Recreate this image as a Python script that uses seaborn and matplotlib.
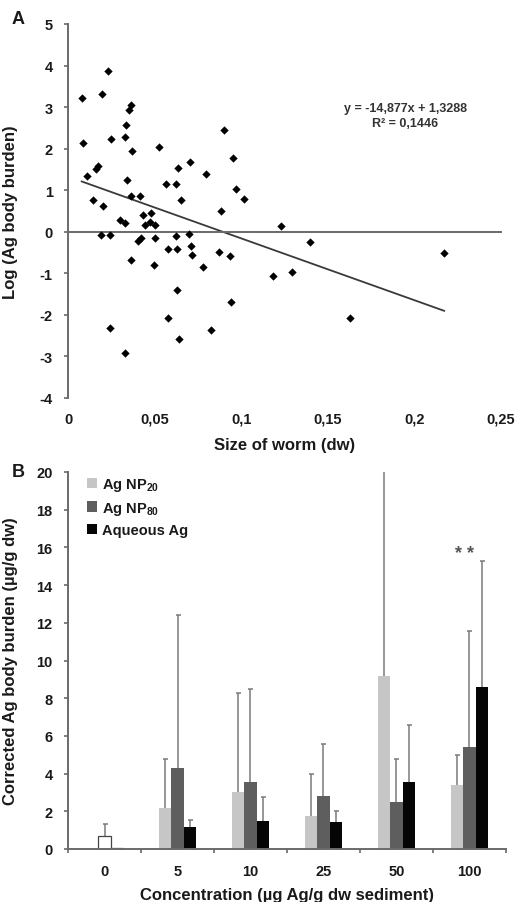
import numpy as np
import pandas as pd
import matplotlib
matplotlib.use("Agg")
import matplotlib.pyplot as plt
from matplotlib.patches import Patch
import seaborn as sns

# ---- Panel A: worm size (dw) vs log Ag body burden ----
worm_size = [
    0.0232, 0.0078, 0.0199, 0.0363, 0.0351, 0.0336, 0.0330, 0.0251, 0.0086, 0.0372,
    0.0527, 0.0172, 0.0163, 0.0111, 0.0636, 0.0707, 0.0338, 0.0567, 0.0625, 0.0365,
    0.0415, 0.0143, 0.0655, 0.0203, 0.0299, 0.0330, 0.0432, 0.0478, 0.0447, 0.0475,
    0.0505, 0.0190, 0.0240, 0.0403, 0.0419, 0.0505, 0.0626, 0.0700, 0.0576, 0.0630,
    0.0363, 0.0494, 0.0628, 0.0576, 0.0245, 0.0638, 0.0328, 0.0710, 0.0718, 0.0780,
    0.0823, 0.0874, 0.0934, 0.0942, 0.0886, 0.0794, 0.0900, 0.0954, 0.0969, 0.1015,
    0.1229, 0.1400, 0.1185, 0.1296, 0.1628, 0.2173,
]
log_burden = [
    3.88, 3.21, 3.32, 3.06, 2.92, 2.56, 2.28, 2.23, 2.14, 1.95,
    2.03, 1.58, 1.51, 1.34, 1.53, 1.68, 1.24, 1.14, 1.14, 0.86,
    0.86, 0.76, 0.77, 0.62, 0.28, 0.20, 0.40, 0.44, 0.16, 0.23,
    0.16, -0.08, -0.08, -0.22, -0.14, -0.14, -0.10, -0.05, -0.41, -0.41,
    -0.67, -0.79, -1.40, -2.08, -2.32, -2.59, -2.92, -0.35, -0.56, -0.84,
    -2.36, -0.49, -0.59, -1.68, 0.51, 1.40, 2.46, 1.78, 1.03, 0.79,
    0.14, -0.25, -1.07, -0.97, -2.08, -0.51,
]
fit_slope = -14.877
fit_intercept = 1.3288
fit_r2 = 0.1446
size_ticks = [0, 0.05, 0.1, 0.15, 0.2, 0.25]
size_tick_labels = ["0", "0,05", "0,1", "0,15", "0,2", "0,25"]
burden_ticks = [-4, -3, -2, -1, 0, 1, 2, 3, 4, 5]

# ---- Panel B: corrected body burden per exposure concentration ----
concentrations = ["0", "5", "10", "25", "50", "100"]
treatments = ["Ag NP$_{20}$", "Ag NP$_{80}$", "Aqueous Ag"]
np20_mean = [0.0, 2.2, 3.0, 1.75, 9.2, 3.4]
np20_sd = [0.0, 2.55, 5.3, 2.25, 11.5, 1.6]
np80_mean = [0.7, 4.3, 3.55, 2.8, 2.5, 5.4]
np80_sd = [0.63, 8.1, 4.95, 2.75, 2.3, 6.15]
aq_mean = [0.05, 1.15, 1.5, 1.45, 3.55, 8.6]
aq_sd = [0.0, 0.4, 1.25, 0.55, 3.05, 6.7]
bar_colors = ["#c6c6c6", "#5e5e5e", "#050505"]

sns.set_style("white")
plt.rcParams.update({
    "font.family": ["Liberation Sans", "DejaVu Sans"],
    "font.weight": "bold",
    "axes.labelweight": "bold",
    "axes.unicode_minus": False,
    "mathtext.fontset": "custom",
    "mathtext.rm": "Liberation Sans:bold",
    "mathtext.default": "rm",
    "text.color": "#1a1a1a",
    "axes.labelcolor": "#1a1a1a",
    "xtick.color": "#1a1a1a",
    "ytick.color": "#1a1a1a",
})

spine_col = "#6a6a6a"
W, H = 518, 903
fig = plt.figure(figsize=(W / 100, H / 100), dpi=100)
axA = fig.add_axes([68 / W, 1 - 399 / H, 433 / W, 374 / H])
axB = fig.add_axes([68 / W, 1 - 850 / H, 438 / W, 377 / H])

# ---------------- Panel A ----------------
df_a = pd.DataFrame({"size": worm_size, "burden": log_burden})
sns.scatterplot(data=df_a, x="size", y="burden", marker="D", s=18,
                color="black", linewidth=0, ax=axA, zorder=3)
x_fit = np.array([min(worm_size), max(worm_size)])
sns.lineplot(x=x_fit, y=fit_slope * x_fit + fit_intercept, color="#3a3a3a",
             linewidth=1.3, ax=axA, zorder=2)

axA.set_xlim(0, 0.25)
axA.set_ylim(-4, 5)
axA.set_yticks(burden_ticks)
axA.set_yticklabels([str(t) for t in burden_ticks])
for side in ("top", "right"):
    axA.spines[side].set_visible(False)
for side in ("left", "bottom"):
    axA.spines[side].set_color(spine_col)
    axA.spines[side].set_linewidth(1.4)
axA.spines["bottom"].set_position(("data", 0))
axA.set_xticks(size_ticks)
axA.tick_params(axis="x", labelbottom=False, length=3, width=1.2,
                color=spine_col, direction="out")
axA.tick_params(axis="y", left=True, length=3, width=1.2, color=spine_col,
                labelsize=10.5, pad=8)
sec = axA.secondary_xaxis("bottom")
sec.set_xticks(size_ticks, labels=size_tick_labels)
sec.spines["bottom"].set_visible(False)
sec.tick_params(length=0, labelsize=10.5, pad=10)
axA.set_xlabel("")
sec.set_xlabel("Size of worm (dw)", fontsize=12, fontweight="bold", labelpad=8)
axA.set_ylabel("Log (Ag body burden)", fontsize=12, fontweight="bold")
axA.yaxis.set_label_coords(-0.115, 0.5)

eq = f"y = {fit_slope:.3f}x + {fit_intercept:.4f}".replace(".", ",")
r2 = f"R\u00b2 = {fit_r2:.4f}".replace(".", ",")
axA.text(0.1946, 2.98, eq, ha="center", va="center", fontsize=9, color="#333333")
axA.text(0.1946, 2.62, r2, ha="center", va="center", fontsize=9, color="#333333")

# ---------------- Panel B ----------------
df_b = pd.DataFrame({
    "conc": concentrations * 3,
    "treatment": np.repeat(treatments, len(concentrations)),
    "burden": np20_mean + np80_mean + aq_mean,
})
sns.barplot(data=df_b, x="conc", y="burden", hue="treatment",
            order=concentrations, hue_order=treatments,
            palette=dict(zip(treatments, bar_colors)), saturation=1,
            width=0.5, errorbar=None, legend=False, linewidth=0, ax=axB)

for container, sds in zip(axB.containers, [np20_sd, np80_sd, aq_sd]):
    for bar, sd in zip(container, sds):
        bar.set_zorder(2)
        if sd > 0:
            xc = bar.get_x() + bar.get_width() / 2
            h = bar.get_height()
            _, caps, _ = axB.errorbar(xc, h, yerr=[[0], [sd]], fmt="none",
                                      ecolor="#7a7a7a", elinewidth=1.1,
                                      capsize=1.8, capthick=1.1, zorder=1)
            # upper whisker only: drop the cap that sits on the bar top
            for cap in caps:
                if np.allclose(cap.get_ydata(), h):
                    cap.set_visible(False)
    # control group (0) shown as open bars
    ctrl = container[0]
    if ctrl.get_height() > 0:
        ctrl.set_facecolor("white")
        ctrl.set_edgecolor("#444444")
        ctrl.set_linewidth(0.9)

# significance marks above the 100 group
for container in axB.containers[:2]:
    bar = container[len(concentrations) - 1]
    axB.text(bar.get_x() + bar.get_width() / 2 + 0.02, 15.7, "*", ha="center",
             va="center", fontsize=13, color="#555555")

axB.set_xlim(-0.5, len(concentrations) - 0.5)
axB.set_ylim(0, 20)
axB.set_yticks(range(0, 21, 2))
for side in ("top", "right"):
    axB.spines[side].set_visible(False)
for side in ("left", "bottom"):
    axB.spines[side].set_color(spine_col)
    axB.spines[side].set_linewidth(1.4)
    axB.spines[side].set_zorder(3)
axB.set_xticks(np.arange(-0.5, len(concentrations), 1), minor=True)
axB.tick_params(axis="x", which="major", length=0, labelsize=10.5, pad=11)
axB.tick_params(axis="x", which="minor", bottom=True, length=3, width=1.2,
                color=spine_col, direction="out")
axB.tick_params(axis="y", left=True, length=3, width=1.2, color=spine_col,
                labelsize=10.5, pad=8)
axB.set_xlabel("Concentration (\u00b5g Ag/g dw sediment)", fontsize=12,
               fontweight="bold", labelpad=6)
axB.set_ylabel("Corrected Ag body burden (\u00b5g/g dw)", fontsize=12,
               fontweight="bold")
axB.yaxis.set_label_coords(-0.114, 0.5)

handles = [Patch(facecolor=c, edgecolor="none") for c in bar_colors]
axB.legend(handles, treatments, loc="upper left", bbox_to_anchor=(0.03, 1.005),
           frameon=False, fontsize=10.5, handlelength=0.7, handleheight=0.7,
           handletextpad=0.3, labelspacing=0.45, borderaxespad=0)

fig.text(12 / W, 1 - 20 / H, "A", fontsize=13, fontweight="bold", va="center")
fig.text(12 / W, 1 - 473 / H, "B", fontsize=13, fontweight="bold", va="center")

fig.savefig("out.png", dpi=100)
